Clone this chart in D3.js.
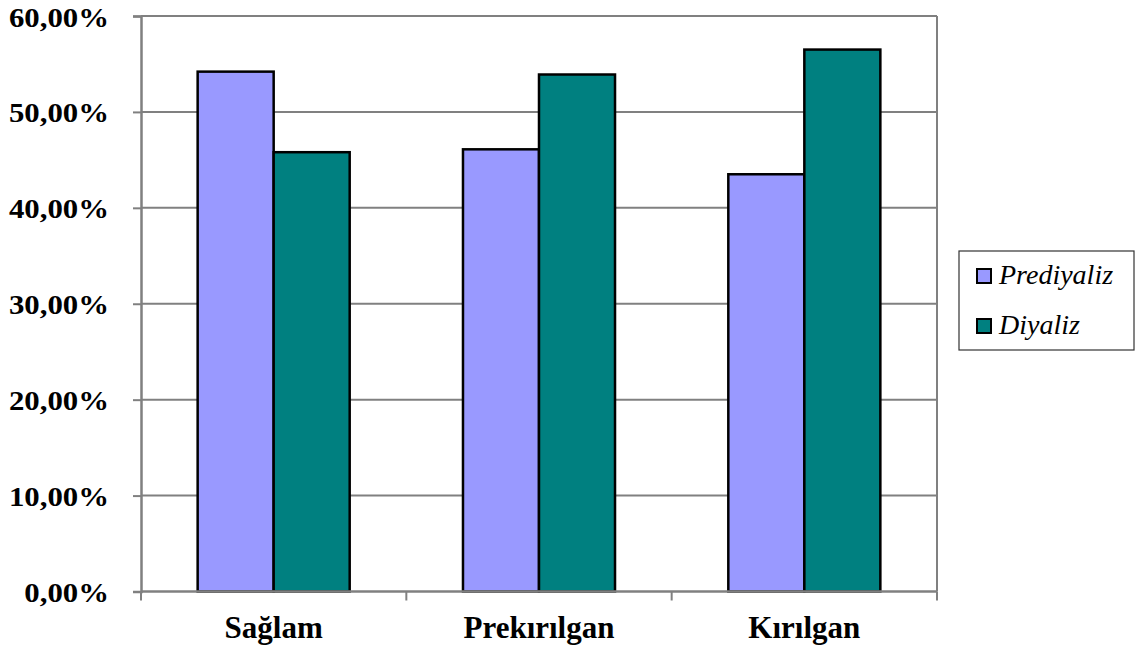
<!DOCTYPE html>
<html>
<head>
<meta charset="utf-8">
<script src="https://cdn.jsdelivr.net/npm/d3@7"></script>
<style>
  html, body { margin: 0; padding: 0; background: #fff; }
  svg { display: block; }
  svg text { font-family: "Liberation Serif", "Times New Roman", serif; fill: #000; }
</style>
</head>
<body>
<svg id="chart" width="1139" height="649"></svg>
<script>
// Category groups and the two series (percent of each group)
const categories = ["Sağlam", "Prekırılgan", "Kırılgan"];
const seriesNames = ["Prediyaliz", "Diyaliz"];
const prediyaliz = [54.2, 46.1, 43.5];
const diyaliz = [45.8, 53.9, 56.5];
const yTicks = [0, 10, 20, 30, 40, 50, 60];
const colors = ["#9999FF", "#008080"];

const SERIF = '"Liberation Serif", "Times New Roman", serif';
const svg = d3.select("#chart");
const plot = { left: 141, right: 937, top: 16, bottom: 591.5 };

const x = d3.scaleBand()
  .domain(categories)
  .range([plot.left, plot.right])
  .paddingInner(0.427)
  .paddingOuter(0.2135);

const xs = d3.scaleBand()
  .domain(seriesNames)
  .range([0, x.bandwidth()]);

const y = d3.scaleLinear().domain([0, 60]).range([plot.bottom, plot.top]);

const fmt = v => d3.format(".2f")(v).replace(".", ",") + "%";

// Horizontal gridlines
svg.append("g")
  .selectAll("line")
  .data(yTicks.filter(d => d > 0))
  .join("line")
  .attr("x1", plot.left).attr("x2", plot.right)
  .attr("y1", d => y(d)).attr("y2", d => y(d))
  .attr("stroke", "#808080").attr("stroke-width", 2);

// Right plot border
svg.append("line")
  .attr("x1", plot.right).attr("x2", plot.right)
  .attr("y1", plot.top).attr("y2", plot.bottom)
  .attr("stroke", "#808080").attr("stroke-width", 2);

// Bars
const rows = categories.map((c, i) => ({ cat: c, vals: [prediyaliz[i], diyaliz[i]] }));
svg.append("g")
  .selectAll("g")
  .data(rows)
  .join("g")
  .attr("transform", d => `translate(${x(d.cat)},0)`)
  .selectAll("rect")
  .data(d => d.vals.map((v, j) => ({ name: seriesNames[j], v, j })))
  .join("rect")
  .attr("x", d => xs(d.name))
  .attr("width", xs.bandwidth())
  .attr("y", d => y(d.v))
  .attr("height", d => y(0) - y(d.v))
  .attr("fill", d => colors[d.j])
  .attr("stroke", "#000")
  .attr("stroke-width", 2.5);

// Y axis
const yAxis = svg.append("g")
  .attr("transform", `translate(${plot.left},0)`)
  .call(d3.axisLeft(y).tickValues(yTicks).tickSize(8).tickPadding(24).tickFormat(fmt));
yAxis.select(".domain").attr("stroke", "#808080").attr("stroke-width", 2.5);
yAxis.selectAll(".tick line").attr("stroke", "#808080").attr("stroke-width", 2);
yAxis.selectAll(".tick text")
  .attr("x", null)
  .attr("dy", null)
  .attr("transform", "translate(-32,10) scale(1.1,1)")
  .style("font-family", SERIF)
  .style("font-weight", "bold")
  .style("font-size", "28px");

// X axis with ticks between categories
const xAxis = svg.append("g").attr("transform", `translate(0,${plot.bottom})`);
xAxis.append("line")
  .attr("x1", plot.left).attr("x2", plot.right)
  .attr("stroke", "#808080").attr("stroke-width", 2.5);
const bounds = d3.range(categories.length + 1).map(i => plot.left + i * (plot.right - plot.left) / categories.length);
xAxis.selectAll("line.sep")
  .data(bounds)
  .join("line")
  .attr("class", "sep")
  .attr("x1", d => d).attr("x2", d => d)
  .attr("y1", 0).attr("y2", 9)
  .attr("stroke", "#808080").attr("stroke-width", 2);
xAxis.selectAll("text")
  .data(categories)
  .join("text")
  .attr("x", d => x(d) + x.bandwidth() / 2)
  .attr("y", 46)
  .attr("text-anchor", "middle")
  .style("font-family", SERIF)
  .style("font-weight", "bold")
  .style("font-size", "31px")
  .text(d => d);

// Legend
const legend = svg.append("g").attr("transform", "translate(959,251)");
legend.append("rect")
  .attr("width", 175).attr("height", 99)
  .attr("fill", "#fff").attr("stroke", "#333").attr("stroke-width", 1.2);
const items = legend.selectAll("g.item")
  .data(seriesNames)
  .join("g")
  .attr("class", "item")
  .attr("transform", (d, i) => `translate(18,${18 + i * 50})`);
items.append("rect")
  .attr("width", 14).attr("height", 14)
  .attr("fill", (d, i) => colors[i])
  .attr("stroke", "#000").attr("stroke-width", 2);
items.append("text")
  .attr("x", 22).attr("y", 15)
  .style("font-family", SERIF)
  .style("font-style", "italic")
  .style("font-size", "28px")
  .text(d => d);
</script>
</body>
</html>
